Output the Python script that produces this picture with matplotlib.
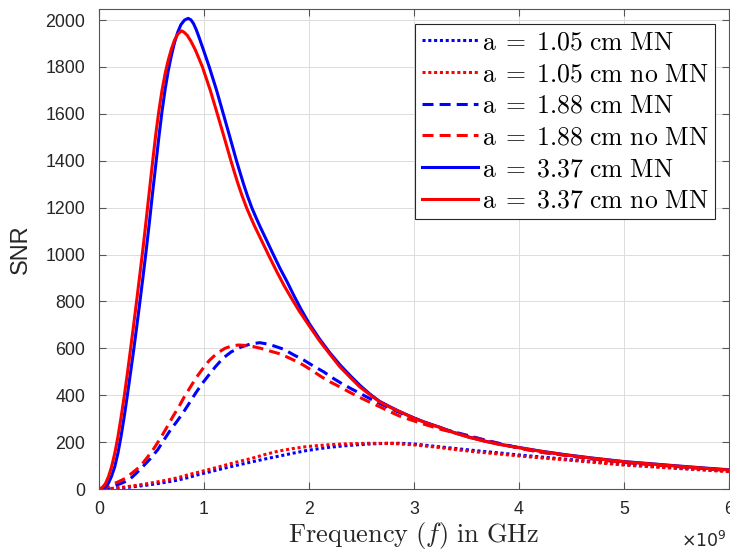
import numpy as np
import matplotlib
matplotlib.use("Agg")
import matplotlib.pyplot as plt
from matplotlib.font_manager import FontProperties

plt.rcParams['font.family'] = ['Liberation Sans', 'DejaVu Sans']

# SNR vs frequency (GHz) for three loop radii, with and without matching network
f_small_mn = [0, 0.1, 0.2, 0.317, 0.45, 0.6, 0.75, 0.86, 0.951, 1.08,
              1.204, 1.33, 1.458, 1.58, 1.712, 1.84, 1.965, 2.08, 2.196, 2.38,
              2.577, 2.75, 2.862, 3.0, 3.242, 3.43, 3.623, 3.81, 4.0, 4.2,
              4.447, 4.7, 5.0, 5.25, 5.493, 5.75, 6.0]
snr_small_mn = [0, 1, 4, 9, 16, 26, 38, 50, 62, 76,
                90, 103, 116, 128, 140, 152, 163, 171, 178, 186,
                192, 195, 195, 192, 180, 171, 162, 154, 145, 137,
                127, 117, 105, 97, 90, 83, 76]

f_small_nomn = [0, 0.1, 0.2, 0.317, 0.45, 0.6, 0.75, 0.86, 0.951, 1.08,
                1.204, 1.33, 1.458, 1.58, 1.712, 1.84, 1.965, 2.08, 2.196, 2.38,
                2.577, 2.8, 3.005, 3.22, 3.433, 3.62, 3.813, 4.0, 4.2, 4.447,
                4.7, 5.0, 5.25, 5.493, 5.75, 6.0]
snr_small_nomn = [0, 2, 6, 13, 22, 34, 48, 62, 72, 87,
                  102, 117, 131, 147, 162, 172, 180, 185, 189, 193,
                  195, 194, 188, 178, 166, 157, 149, 141, 133, 124,
                  114, 102, 95, 88, 81, 74]

f_mid_mn = [0, 0.1, 0.127, 0.2, 0.285, 0.35, 0.412, 0.49, 0.56, 0.62,
            0.681, 0.745, 0.808, 0.865, 0.919, 0.98, 1.046, 1.11, 1.179, 1.26,
            1.35, 1.44, 1.53, 1.62, 1.7, 1.759, 1.85, 1.949, 2.04, 2.139,
            2.22, 2.307, 2.4, 2.498, 2.59, 2.688, 2.78, 2.878, 3.07, 3.274,
            3.48, 3.686, 4.0, 4.2, 4.447, 4.7, 5.0, 5.25, 5.493, 5.75, 6.0]
snr_mid_mn = [0, 4, 10, 22, 38, 65, 93, 130, 168, 210,
              252, 290, 330, 370, 408, 448, 486, 522, 557, 585,
              605, 618, 624, 617, 605, 596, 573, 550, 525, 500,
              475, 451, 428, 405, 383, 362, 342, 323, 290, 256,
              232, 208, 175, 158, 144, 129, 114, 105, 97, 88, 79]

f_mid_nomn = [0, 0.06, 0.095, 0.18, 0.254, 0.32, 0.396, 0.46, 0.523, 0.59,
              0.65, 0.705, 0.761, 0.815, 0.872, 0.925, 0.983, 1.05, 1.125, 1.2,
              1.27, 1.331, 1.4, 1.47, 1.54, 1.63, 1.727, 1.82, 1.918, 2.02,
              2.117, 2.2, 2.292, 2.39, 2.482, 2.58, 2.672, 2.77, 2.862, 3.068,
              3.274, 3.48, 3.686, 4.0, 4.2, 4.447, 4.7, 5.0, 5.25, 5.493, 5.75, 6.0]
snr_mid_nomn = [0, 5, 13, 30, 46, 70, 98, 135, 173, 220,
                266, 310, 351, 395, 436, 474, 510, 548, 579, 600,
                611, 614, 612, 607, 600, 588, 576, 557, 536, 508,
                479, 457, 436, 412, 391, 370, 351, 330, 311, 280,
                252, 230, 206, 174, 157, 143, 128, 113, 104, 96, 87, 79]

f_big_mn = [0, 0.03, 0.06, 0.09, 0.12, 0.15, 0.18, 0.21, 0.24, 0.27,
            0.30, 0.33, 0.36, 0.39, 0.42, 0.45, 0.48, 0.51, 0.54, 0.57,
            0.60, 0.63, 0.66, 0.69, 0.72, 0.75, 0.78, 0.815, 0.849, 0.875,
            0.9, 0.925, 0.95, 0.995, 1.05, 1.12, 1.185, 1.247, 1.31, 1.343,
            1.377, 1.414, 1.455, 1.495, 1.535, 1.602, 1.66, 1.725, 1.79, 1.855,
            1.92, 2.0, 2.1, 2.2, 2.3, 2.4, 2.49, 2.58, 2.672, 2.77,
            2.86, 3.005, 3.12, 3.242, 3.38, 3.528, 3.67, 3.813, 4.0, 4.2,
            4.447, 4.7, 5.0, 5.25, 5.493, 5.75, 6.0]
snr_big_mn = [0, 2, 8, 25, 55, 95, 152, 225, 308, 400,
              495, 592, 695, 800, 908, 1020, 1138, 1262, 1380, 1500,
              1610, 1705, 1785, 1850, 1905, 1948, 1980, 2000, 2007, 2001,
              1985, 1960, 1930, 1872, 1800, 1700, 1598, 1500, 1399, 1350,
              1300, 1250, 1200, 1158, 1118, 1055, 1000, 940, 885, 826,
              770, 707, 640, 580, 527, 480, 440, 405, 374, 351,
              331, 302, 282, 264, 241, 221, 205, 191, 177, 162,
              146, 132, 117, 108, 99, 90, 82]

f_big_nomn = [0, 0.03, 0.06, 0.09, 0.12, 0.15, 0.18, 0.21, 0.24, 0.27,
              0.30, 0.33, 0.36, 0.39, 0.42, 0.45, 0.48, 0.51, 0.54, 0.57,
              0.60, 0.63, 0.66, 0.69, 0.72, 0.75, 0.786, 0.81, 0.84, 0.875,
              0.918, 0.95, 0.985, 1.06, 1.128, 1.192, 1.257, 1.29, 1.325, 1.363,
              1.405, 1.445, 1.485, 1.553, 1.623, 1.692, 1.762, 1.835, 1.905, 2.0,
              2.1, 2.2, 2.292, 2.39, 2.482, 2.58, 2.672, 2.77, 2.862, 3.005,
              3.12, 3.242, 3.38, 3.528, 3.67, 3.813, 4.0, 4.2, 4.447, 4.7,
              5.0, 5.25, 5.493, 5.75, 6.0]
snr_big_nomn = [0, 6, 22, 52, 95, 152, 222, 305, 395, 492,
                595, 700, 808, 918, 1030, 1150, 1272, 1393, 1510, 1612,
                1700, 1772, 1830, 1877, 1915, 1940, 1954, 1948, 1935, 1910,
                1872, 1838, 1800, 1700, 1598, 1500, 1399, 1350, 1300, 1250,
                1200, 1158, 1118, 1055, 990, 928, 868, 812, 760, 697,
                632, 574, 522, 477, 436, 402, 372, 349, 330, 301,
                281, 263, 240, 220, 204, 190, 176, 161, 145, 131,
                116, 107, 98, 89, 81]

series = [
    (f_small_mn, snr_small_mn, 'b', 'dot', '1.05 cm MN'),
    (f_small_nomn, snr_small_nomn, 'r', 'dot', '1.05 cm no MN'),
    (f_mid_mn, snr_mid_mn, 'b', 'dash', '1.88 cm MN'),
    (f_mid_nomn, snr_mid_nomn, 'r', 'dash', '1.88 cm no MN'),
    (f_big_mn, snr_big_mn, 'b', 'solid', '3.37 cm MN'),
    (f_big_nomn, snr_big_nomn, 'r', 'solid', '3.37 cm no MN'),
]
styles = {'dot': (0, (1.0, 0.9)), 'dash': (0, (3.6, 2.0)), 'solid': '-'}

fig = plt.figure(figsize=(7.3, 5.51), dpi=100)
ax = fig.add_axes([99/730, 62/551, 630/730, 480/551])

for f, snr, c, ls, lab in series:
    label = r'$\mathrm{a}\;=\;\mathrm{' + lab.replace(' ', r'\ ') + '}$'
    ax.plot(f, snr, color=c, lw=2.2, linestyle=styles[ls],
            dash_capstyle='butt', solid_joinstyle='round', label=label)

ax.set_xlim(0, 6)
ax.set_ylim(0, 2047)
ax.set_xticks(np.arange(0, 7))
ax.set_yticks(np.arange(0, 2001, 200))

ax.grid(True, color='#dcdcdc', lw=0.7)
ax.set_axisbelow(True)
for s in ax.spines.values():
    s.set_color('#555555')
    s.set_linewidth(0.8)
ax.tick_params(direction='in', length=5, width=0.8, color='#555555',
               labelsize=12.8, labelcolor='#262626', top=True, right=True)
ax.tick_params(axis='x', pad=9)
ax.tick_params(axis='y', pad=10)

# exponent for the frequency axis
fig.text(727/730, 1 - 540/551, r'$\times10^{9}$', ha='right', va='center',
         fontsize=12.5, color='#262626')

ax.set_xlabel(r'$\mathrm{Frequency}\ (f)\ \mathrm{in\ GHz}$', fontsize=19,
              math_fontfamily='cm', color='#262626', labelpad=1)
ax.set_ylabel('SNR', fontsize=17, color='#262626')
ax.yaxis.set_label_coords((32 - 99) / 630, 0.5)

leg = ax.legend(loc='upper right', bbox_to_anchor=(0.978, 0.969),
                borderaxespad=0, prop=FontProperties(size=18.5, math_fontfamily='cm'),
                fancybox=False, framealpha=1, edgecolor='#262626',
                handlelength=2.2, handletextpad=0.15, labelspacing=0.3,
                borderpad=0.25)
leg.get_frame().set_linewidth(0.8)

fig.savefig('out.png', dpi=100)
